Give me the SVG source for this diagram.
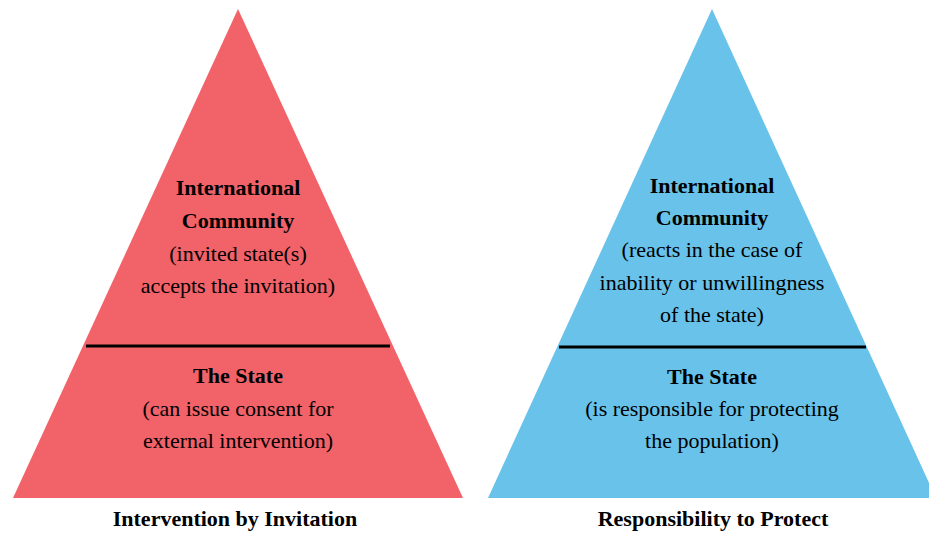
<svg xmlns="http://www.w3.org/2000/svg" width="929" height="534" viewBox="0 0 929 534">
  <style>
    .t { font-family: "Liberation Serif", "Times New Roman", serif; font-size: 22px; fill: #000; text-anchor: middle; }
    .b { font-weight: bold; }
    .div { stroke: #000; stroke-width: 3; }
  </style>
  <rect width="929" height="534" fill="#fff"/>

  <!-- Intervention by Invitation -->
  <g id="pyramid-invitation">
    <polygon points="238,9 463,498 13,498" fill="#F26269"/>
    <line class="div" x1="86" y1="346" x2="390" y2="346"/>
    <text class="t b" x="238" y="195">International</text>
    <text class="t b" x="238" y="228">Community</text>
    <text class="t" x="238" y="261">(invited state(s)</text>
    <text class="t" x="238" y="293">accepts the invitation)</text>
    <text class="t b" x="238" y="383">The State</text>
    <text class="t" x="238" y="416">(can issue consent for</text>
    <text class="t" x="238" y="448">external intervention)</text>
    <text class="t b" x="235" y="526">Intervention by Invitation</text>
  </g>

  <!-- Responsibility to Protect -->
  <g id="pyramid-r2p">
    <polygon points="712,9 936,498 488,498" fill="#68C2EA"/>
    <line class="div" x1="559" y1="347" x2="866" y2="347"/>
    <text class="t b" x="712" y="193">International</text>
    <text class="t b" x="712" y="225">Community</text>
    <text class="t" x="712" y="257">(reacts in the case of</text>
    <text class="t" x="712" y="290">inability or unwillingness</text>
    <text class="t" x="712" y="322">of the state)</text>
    <text class="t b" x="712" y="384">The State</text>
    <text class="t" x="712" y="416">(is responsible for protecting</text>
    <text class="t" x="712" y="448">the population)</text>
    <text class="t b" x="713" y="526">Responsibility to Protect</text>
  </g>
</svg>
